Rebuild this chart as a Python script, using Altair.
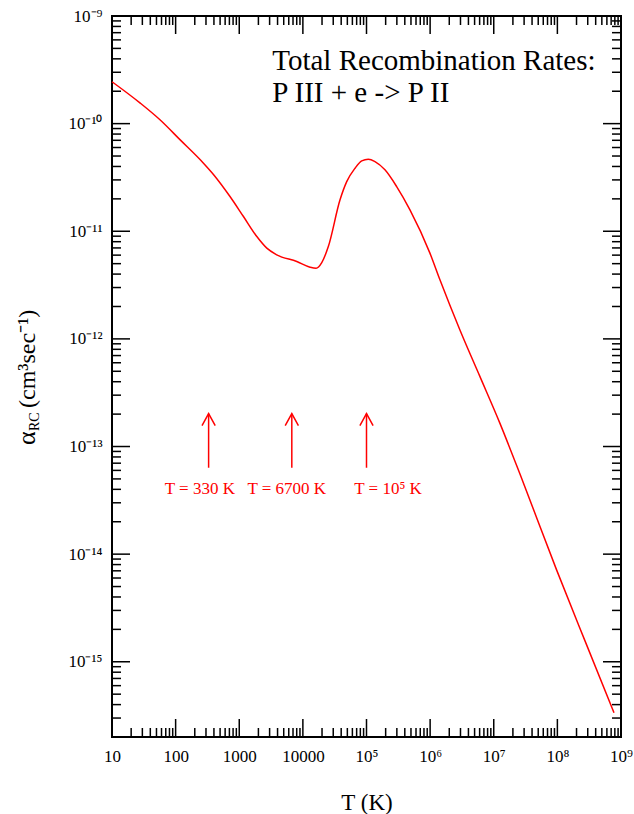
import altair as alt
import pandas as pd

# ---- data ----
T_K = [10, 27.8, 57.3, 118, 274, 393, 720, 1164, 1889, 2711, 3892, 8017, 12980,
       16110, 19810, 25120, 38370, 48870, 65960, 84140, 106700, 135900, 195000,
       297900, 482000, 993000, 1.426e6, 2.94e6, 6.05e6, 1.247e7, 2.73e7,
       9.68e7, 2.86e8, 7.76e8]
alpha_rc = [2.45e-10, 1.55e-10, 1.08e-10, 7.06e-11, 4.29e-11, 3.37e-11, 2.09e-11,
            1.37e-11, 8.93e-12, 6.97e-12, 6.04e-12, 5.24e-12, 4.64e-12, 4.54e-12,
            5.12e-12, 7.21e-12, 1.96e-11, 2.89e-11, 3.85e-11, 4.51e-11, 4.67e-11,
            4.44e-11, 3.72e-11, 2.60e-11, 1.58e-11, 6.26e-12, 3.54e-12, 1.21e-12,
            4.48e-13, 1.65e-13, 5.10e-14, 7.18e-15, 1.45e-15, 3.36e-16]

arrow_T = [330, 6700, 1e5]
arrow_tail = [6.35e-14, 6.35e-14, 6.35e-14]
arrow_head = [2.02e-13, 2.02e-13, 2.02e-13]
label_text = ["T = 330 K", "T = 6700 K", "T = 10\u2075 K"]
label_T = [240, 5580, 2.18e5]
label_alpha = [3.65e-14, 3.65e-14, 3.65e-14]

title_lines = ["Total Recombination Rates:", "P III + e -> P II"]
title_T = [3300, 3300]
title_alpha = [3.15e-10, 1.59e-10]

x_decades = [10, 100, 1000, 1e4, 1e5, 1e6, 1e7, 1e8, 1e9]
x_labels = ["10", "100", "1000", "10000", "10\u2075", "10\u2076", "10\u2077", "10\u2078", "10\u2079"]
y_decades = [1e-15, 1e-14, 1e-13, 1e-12, 1e-11, 1e-10, 1e-9]
y_labels = ["10\u207b\u00b9\u2075", "10\u207b\u00b9\u2074", "10\u207b\u00b9\u00b3", "10\u207b\u00b9\u00b2",
            "10\u207b\u00b9\u00b9", "10\u207b\u00b9\u2070", "10\u207b\u2079"]
minor_mult = [2, 3, 4, 5, 6, 7, 8, 9]
x_minor = [m * d for d in x_decades[:-1] for m in minor_mult]
y_minor = [m * d for d in [1e-16] + y_decades[:-1] for m in minor_mult if m * d > 2.5e-16]

# ---- layout / style ----
W, H = 509, 721
SERIF = "Liberation Serif"
RED = "#ff0000"
MAJOR, MINOR = 18, 9

xs = alt.Scale(type="log", domain=[10, 1e9], nice=False)
ys = alt.Scale(type="log", domain=[2e-16, 1e-9], nice=False)

x_expr = "[" + ",".join("'%s'" % s for s in x_labels) + "][round(log(datum.value)/LN10) - 1]"
y_expr = "[" + ",".join("'%s'" % s for s in y_labels) + "][round(log(datum.value)/LN10) + 15]"

X = alt.X("T:Q", scale=xs, axis=alt.Axis(
    values=x_decades, labelExpr=x_expr, ticks=False, domain=False, grid=False,
    labelPadding=11, labelFontSize=17, labelFont=SERIF, labelColor="black",
    labelFlush=False, labelOverlap=False,
    title="T (K)", titleFont=SERIF, titleFontSize=23, titleFontWeight="normal",
    titleColor="black", titleX=254.5, titleY=72, titleBaseline="alphabetic",
    titleAlign="center"))
Y = alt.Y("alpha:Q", scale=ys, axis=alt.Axis(
    values=y_decades, labelExpr=y_expr, ticks=False, domain=False, grid=False,
    labelPadding=10, labelFontSize=17, labelFont=SERIF, labelColor="black",
    labelFlush=False, labelOverlap=False, title=None))

curve = pd.DataFrame({"T": T_K, "alpha": alpha_rc})
line = alt.Chart(curve).mark_line(color=RED, strokeWidth=1.5, interpolate="monotone").encode(x=X, y=Y)

arrows_df = pd.DataFrame({"T": arrow_T, "alpha": arrow_tail, "head": arrow_head})
shafts = alt.Chart(arrows_df).mark_rule(color=RED, strokeWidth=1.5).encode(
    x=X, y=Y, y2="head:Q")
heads = alt.Chart(pd.DataFrame({"T": arrow_T, "alpha": arrow_head})).mark_point(
    shape="M -0.55 1 L 0 0 L 0.55 1", size=576, filled=False, stroke=RED,
    strokeWidth=1.5, opacity=1).encode(x=X, y=Y)
labels = alt.Chart(pd.DataFrame({"T": label_T, "alpha": label_alpha, "txt": label_text})).mark_text(
    font=SERIF, fontSize=17, color=RED, align="center", baseline="alphabetic").encode(
    x=X, y=Y, text="txt:N")

titles = alt.Chart(pd.DataFrame({"T": title_T, "alpha": title_alpha, "txt": title_lines})).mark_text(
    font=SERIF, fontSize=29, color="black", align="left", baseline="alphabetic").encode(
    x=X, y=Y, text="txt:N")


def xticks(vals, length):
    df = pd.DataFrame({"T": vals})
    bot = alt.Chart(df).mark_rule(color="black", strokeWidth=1.5).encode(
        x=X, y=alt.value(H), y2=alt.value(H - length))
    top = alt.Chart(df).mark_rule(color="black", strokeWidth=1.5).encode(
        x=X, y=alt.value(0), y2=alt.value(length))
    return [bot, top]


def yticks(vals, length):
    df = pd.DataFrame({"alpha": vals})
    left = alt.Chart(df).mark_rule(color="black", strokeWidth=1.5).encode(
        y=Y, x=alt.value(0), x2=alt.value(length))
    right = alt.Chart(df).mark_rule(color="black", strokeWidth=1.5).encode(
        y=Y, x=alt.value(W), x2=alt.value(W - length))
    return [left, right]


ytitle_parts = [
    ("\u03b1", 26, -77, 429),
    ("RC", 14, -73, 415),
    ("(cm\u00b3sec\u207b\u00b9)", 24, -77, 392),
]
ytitle_layers = [
    alt.Chart(pd.DataFrame({"txt": [t]})).mark_text(
        font=SERIF, fontSize=fs, color="black", align="left", baseline="alphabetic",
        angle=270).encode(x=alt.value(px), y=alt.value(py), text="txt:N")
    for t, fs, px, py in ytitle_parts
]

layers = ([line] + xticks(x_decades, MAJOR) + xticks(x_minor, MINOR)
          + yticks(y_decades, MAJOR) + yticks(y_minor, MINOR)
          + [shafts, heads, labels, titles] + ytitle_layers)

chart = alt.layer(*layers).properties(
    width=W, height=H,
    padding={"left": 112, "top": 16, "right": 13, "bottom": 77},
    autosize=alt.AutoSizeParams(type="none"),
    background="white",
).configure_view(stroke="black", strokeWidth=2)

chart.save("out.html", embed_options={"renderer": "svg", "actions": False})
